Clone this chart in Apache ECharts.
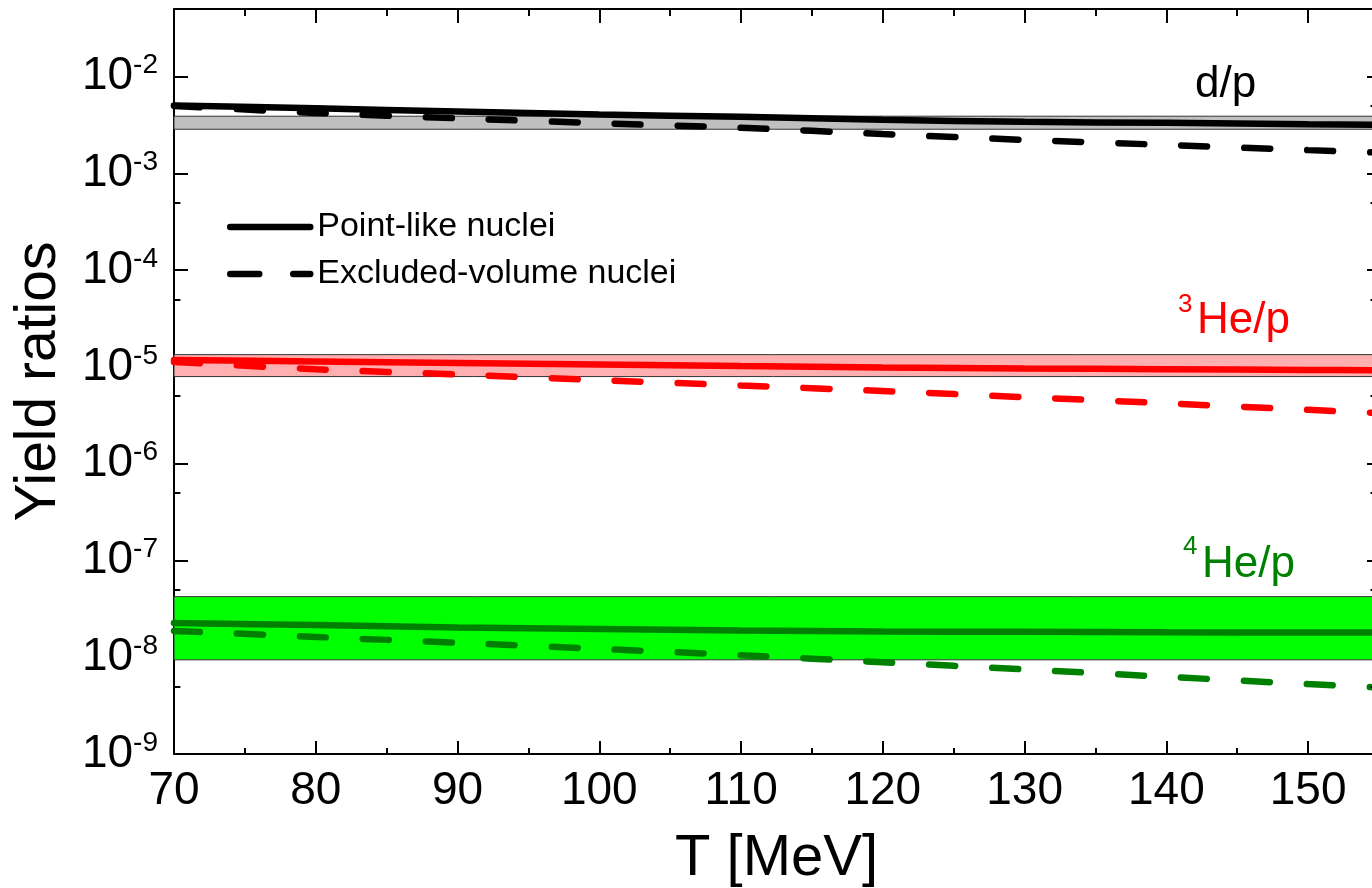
<!DOCTYPE html>
<html>
<head>
<meta charset="utf-8">
<title>Yield ratios</title>
<script src="https://cdn.jsdelivr.net/npm/echarts@6/dist/echarts.min.js"></script>
<style>
  html, body { margin: 0; padding: 0; background: #fff; }
  #main { width: 1372px; height: 888px; }
</style>
</head>
<body>
<div id="main"></div>
<script>
const temps = [70, 80, 90, 100, 110, 120, 130, 140, 150, 155];

// d/p
const dpPoint = [5.04e-3, 4.7e-3, 4.37e-3, 4.07e-3, 3.84e-3, 3.58e-3, 3.41e-3, 3.33e-3, 3.22e-3, 3.18e-3];
const dpExcl = [4.98e-3, 4.22e-3, 3.71e-3, 3.3e-3, 2.96e-3, 2.55e-3, 2.22e-3, 1.97e-3, 1.74e-3, 1.64e-3];
const dpBand = [2.86e-3, 3.9e-3];

// 3He/p
const he3Point = [1.18e-5, 1.14e-5, 1.1e-5, 1.06e-5, 1.02e-5, 9.88e-6, 9.65e-6, 9.47e-6, 9.32e-6, 9.25e-6];
const he3Excl = [1.125e-5, 9.47e-6, 8.35e-6, 7.31e-6, 6.43e-6, 5.64e-6, 4.87e-6, 4.21e-6, 3.6e-6, 3.33e-6];
const he3Band = [7.95e-6, 1.34e-5];

// 4He/p
const he4Point = [2.26e-8, 2.15e-8, 2.03e-8, 1.96e-8, 1.89e-8, 1.84e-8, 1.83e-8, 1.81e-8, 1.8e-8, 1.8e-8];
const he4Excl = [1.87e-8, 1.62e-8, 1.41e-8, 1.22e-8, 1.05e-8, 8.88e-9, 7.48e-9, 6.28e-9, 5.28e-9, 4.87e-9];
const he4Band = [9.4e-9, 4.23e-8];

// minor ticks of the log axis sit at 5 x 10^n
const minorY = [5e-9, 5e-8, 5e-7, 5e-6, 5e-5, 5e-4, 5e-3];

const FONT = "'Liberation Sans', Arial, sans-serif";
const DASH = [26, 37];
const chart = echarts.init(document.getElementById("main"));

function curve(name, values, color, dashed, band, bandColor) {
  const s = {
    type: "line",
    name: name,
    data: temps.map((t, i) => [t, values[i]]),
    symbol: "none",
    smooth: 0.3,
    silent: true,
    z: dashed ? 3 : 4,
    itemStyle: { color: color },
    lineStyle: { color: color, width: 6.5, type: dashed ? DASH : "solid", cap: "round" },
  };
  if (band) {
    s.markArea = {
      silent: true,
      itemStyle: { color: bandColor, borderColor: "#333", borderWidth: 1 },
      data: [[{ yAxis: band[0] }, { yAxis: band[1] }]],
    };
  }
  return s;
}

// short tick segments for the 5 x 10^n positions (left and right frame)
const tickSeries = {
  type: "line",
  name: "ticks",
  data: [],
  silent: true,
  markLine: {
    silent: true,
    symbol: ["none", "none"],
    label: { show: false },
    lineStyle: { color: "#000", width: 2, type: "solid" },
    data: minorY
      .map((v) => [{ coord: [70, v] }, { coord: [70.45, v] }])
      .concat(minorY.map((v) => [{ coord: [154.4, v] }, { coord: [155, v] }])),
  },
};

const axisLineStyle = { color: "#000", width: 2 };

function xAxisCfg(pos, interval, tickLen, showLine, showLabel) {
  return {
    type: "value",
    position: pos,
    min: 70,
    max: 155,
    interval: interval,
    axisLine: { show: showLine, onZero: false, lineStyle: axisLineStyle },
    axisTick: { inside: true, length: tickLen, lineStyle: { color: "#000", width: 2 } },
    axisLabel: {
      show: showLabel,
      showMaxLabel: false,
      fontSize: 46,
      fontFamily: FONT,
      color: "#000",
      margin: 14,
    },
    splitLine: { show: false },
  };
}

const bottomAxis = xAxisCfg("bottom", 10, 13, true, true);
bottomAxis.name = "T [MeV]";
bottomAxis.nameLocation = "middle";
bottomAxis.nameGap = 76;
bottomAxis.nameTextStyle = { fontSize: 58, fontFamily: FONT, color: "#000" };

const option = {
  animation: false,
  backgroundColor: "#fff",
  grid: { left: 174, top: 9, right: -7, bottom: 134, containLabel: false, outerBoundsMode: "none" },
  legend: {
    orient: "vertical",
    left: 222,
    top: 205,
    itemWidth: 80,
    itemHeight: 30,
    itemGap: 13,
    itemStyle: { color: "rgba(0,0,0,0)", borderWidth: 0, opacity: 0 },
    data: [
      { name: "Point-like nuclei", lineStyle: { color: "#000", width: 6.5, type: "solid", cap: "round" } },
      { name: "Excluded-volume nuclei", lineStyle: { color: "#000", width: 6.5, type: [29, 34], cap: "round" } },
    ],
    textStyle: { fontSize: 34, fontFamily: FONT, color: "#000", padding: [0, 0, 0, 2] },
  },
  xAxis: [
    bottomAxis,
    xAxisCfg("bottom", 5, 6, false, false),
    xAxisCfg("top", 10, 14, true, false),
    xAxisCfg("top", 5, 7, false, false),
  ],
  yAxis: [
    {
      type: "log",
      logBase: 10,
      min: 1e-9,
      max: 5e-2,
      position: "left",
      name: "Yield ratios",
      nameLocation: "middle",
      nameGap: 106,
      nameTextStyle: { fontSize: 57, fontFamily: FONT, color: "#000" },
      axisLine: { onZero: false, lineStyle: axisLineStyle },
      axisTick: { inside: true, length: 14, lineStyle: { color: "#000", width: 2 } },
      axisLabel: {
        showMaxLabel: false,
        margin: 16,
        formatter: (v) => "{b|10}{s|" + Math.round(Math.log10(v)) + "}",
        rich: {
          b: { fontSize: 46, fontFamily: FONT, color: "#000", lineHeight: 50 },
          s: { fontSize: 28, fontFamily: FONT, color: "#000", verticalAlign: "top" },
        },
      },
      splitLine: { show: false },
    },
    {
      type: "log",
      logBase: 10,
      min: 1e-9,
      max: 5e-2,
      position: "right",
      axisLine: { onZero: false, lineStyle: axisLineStyle },
      axisTick: { inside: true, length: 12, lineStyle: { color: "#000", width: 2 } },
      axisLabel: { show: false },
      splitLine: { show: false },
    },
  ],
  graphic: [
    { type: "text", x: 1195, y: 85, style: { text: "d/p", font: "44px " + FONT, fill: "#000", verticalAlign: "middle" } },
    { type: "text", x: 1178, y: 305, style: { text: "3", font: "26px " + FONT, fill: "#ff0000", verticalAlign: "middle" } },
    { type: "text", x: 1197, y: 321, style: { text: "He/p", font: "44px " + FONT, fill: "#ff0000", verticalAlign: "middle" } },
    { type: "text", x: 1183, y: 547, style: { text: "4", font: "26px " + FONT, fill: "#008000", verticalAlign: "middle" } },
    { type: "text", x: 1202, y: 565, style: { text: "He/p", font: "44px " + FONT, fill: "#008000", verticalAlign: "middle" } },
  ],
  series: [
    curve("Point-like nuclei", dpPoint, "#000", false, dpBand, "#c0c0c0"),
    curve("Excluded-volume nuclei", dpExcl, "#000", true),
    curve("3He/p point-like", he3Point, "#ff0000", false, he3Band, "#ffafaf"),
    curve("3He/p excluded-volume", he3Excl, "#ff0000", true),
    curve("4He/p point-like", he4Point, "#008000", false, he4Band, "#00ff00"),
    curve("4He/p excluded-volume", he4Excl, "#008000", true),
    tickSeries,
  ],
};

chart.setOption(option);
</script>
</body>
</html>
